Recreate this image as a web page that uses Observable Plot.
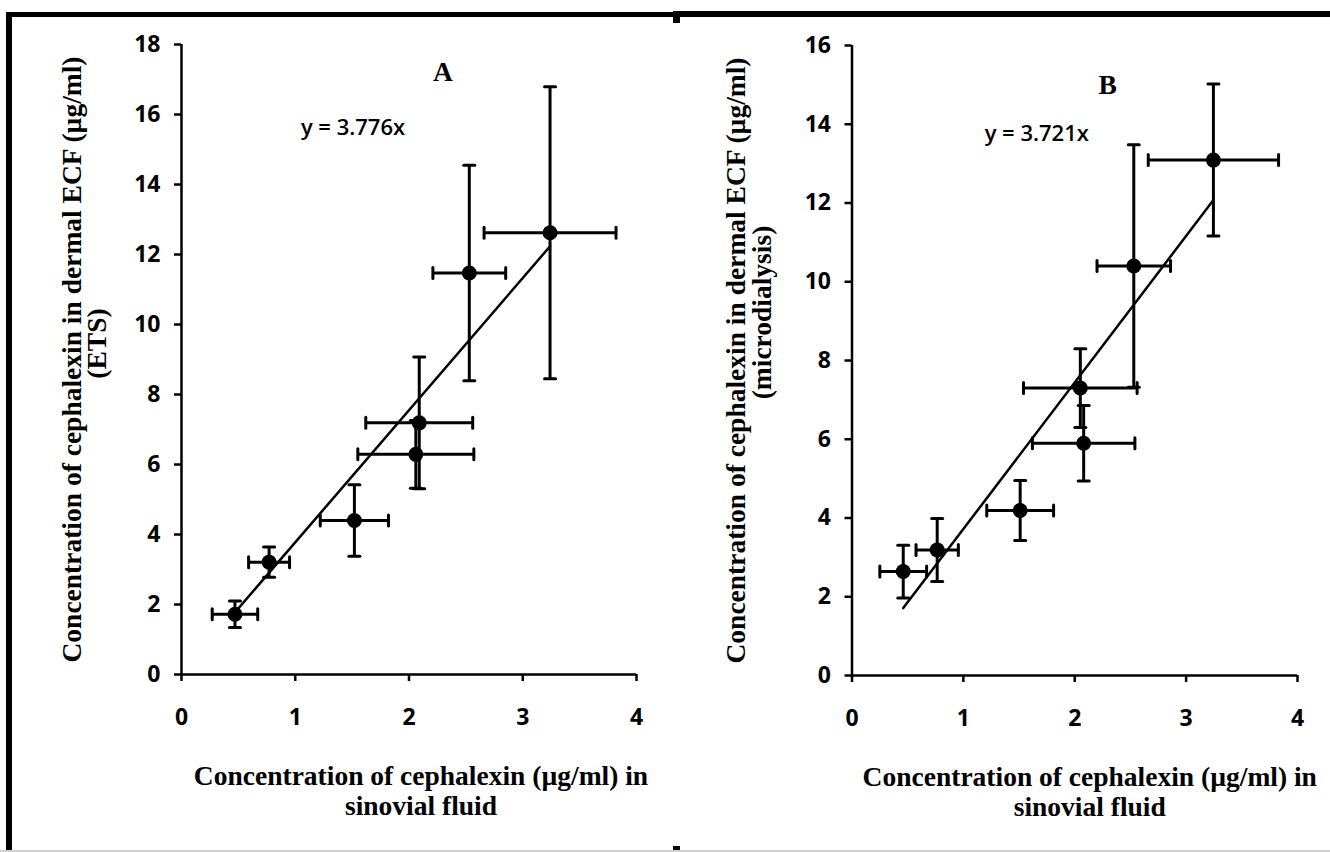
<!DOCTYPE html>
<html><head><meta charset="utf-8">
<script src="https://cdn.jsdelivr.net/npm/d3@7"></script>
<script src="https://cdn.jsdelivr.net/npm/@observablehq/plot@0.6"></script>
<style>
body{margin:0;background:#fff;}
#wrap{position:relative;width:1330px;height:852px;overflow:hidden;background:#fff;}
.panel{position:absolute;top:0;}
.bar{position:absolute;background:#000;}
</style></head><body>
<div id="wrap">
  <div id="pA" class="panel" style="left:0"></div>
  <div id="pB" class="panel" style="left:665px"></div>
  <div class="bar" style="left:6px;top:12px;width:6px;height:840px"></div>
  <div class="bar" style="left:6px;top:12px;width:667px;height:5px"></div>
  <div class="bar" style="left:673px;top:11px;width:7px;height:12px"></div>
  <div class="bar" style="left:678px;top:11px;width:652px;height:6px"></div>
  <div class="bar" style="left:673px;top:846px;width:7px;height:6px"></div>
  <div class="bar" style="left:0;top:850px;width:1330px;height:2px;background:#d0d0d0"></div>
</div>
<script>
// ---- shared axis data ----
const xTicks = [0, 1, 2, 3, 4];
const yTicksA = [0, 2, 4, 6, 8, 10, 12, 14, 16, 18];
const yTicksB = [0, 2, 4, 6, 8, 10, 12, 14, 16];
const xLabel1 = "Concentration of cephalexin (µg/ml) in";
const xLabel2 = "sinovial fluid";

// ---- panel A (ETS) ----
const letterA = "A";
const eqA = "y = 3.776x";
const slopeA = 3.776;
const xA    = [0.47, 0.77, 1.52, 2.09, 2.06, 2.53, 3.24];
const yA    = [1.72, 3.21, 4.40, 7.19, 6.29, 11.47, 12.62];
const xErrA = [0.20, 0.18, 0.30, 0.47, 0.51, 0.32, 0.58];
const yErrA = [0.38, 0.43, 1.02, 1.88, 0.97, 3.08, 4.17];
const yLabA1 = "Concentration of cephalexin in dermal ECF (µg/ml)";
const yLabA2 = "(ETS)";

// ---- panel B (microdialysis) ----
const letterB = "B";
const eqB = "y = 3.721x";
const slopeB = 3.721;
const xB    = [0.46, 0.765, 1.51, 2.08, 2.05, 2.53, 3.245];
const yB    = [2.64, 3.19, 4.19, 5.90, 7.30, 10.40, 13.09];
const xErrB = [0.21, 0.19, 0.30, 0.46, 0.51, 0.33, 0.585];
const yErrB = [0.67, 0.80, 0.76, 0.96, 1.00, 3.08, 1.93];
const yLabB1 = "Concentration of cephalexin in dermal ECF (µg/ml)";
const yLabB2 = "(microdialysis)";

const serif = "'Liberation Serif', 'Times New Roman', serif";
const sans = "'Open Sans', sans-serif";
const capShape = {draw(ctx, l) { ctx.moveTo(0, 0); ctx.lineTo(0, -l); }};

function panel(o) {
  const data = o.xs.map((x, i) => ({x, y: o.ys[i], xe: o.xe[i], ye: o.ye[i]}));
  const fit = d3.extent(o.xs).map(x => ({x, y: o.slope * x}));
  const lab = {fontFamily: serif, fontWeight: "bold", fontSize: 27.5, fill: "black", textAnchor: "middle", lineAnchor: "middle"};
  return Plot.plot({
    width: 665, height: 852,
    marginLeft: o.ml, marginRight: o.mr, marginTop: o.mt, marginBottom: o.mb,
    style: {fontFamily: sans, fontSize: "23px", fontWeight: "bold", color: "black", background: "white", overflow: "visible"},
    x: {domain: [0, 4]},
    y: {domain: [0, o.yMax]},
    marks: [
      Plot.axisX({ticks: xTicks, tickSize: 7, tickPadding: 27, strokeWidth: 2.5, label: null, tickFormat: d => String(d), fontWeight: "bold"}),
      Plot.axisY({ticks: o.yTicks, tickSize: 7, tickPadding: 14, strokeWidth: 2.5, label: null, tickFormat: d => String(d), fontWeight: "bold"}),
      Plot.ruleX([0], {strokeWidth: 2.5}),
      Plot.ruleY([0], {strokeWidth: 2.5}),
      Plot.line(fit, {x: "x", y: "y", stroke: "black", strokeWidth: 2.5}),
      Plot.ruleY(data, {y: "y", x1: d => d.x - d.xe, x2: d => d.x + d.xe, strokeWidth: 3}),
      Plot.ruleX(data, {x: "x", y1: d => d.y - d.ye, y2: d => d.y + d.ye, strokeWidth: 3}),
      Plot.vector(data, {x: d => d.x - d.xe, y: "y", length: 11, rotate: 0, anchor: "middle", shape: capShape, stroke: "black", strokeWidth: 3}),
      Plot.vector(data, {x: d => d.x + d.xe, y: "y", length: 11, rotate: 0, anchor: "middle", shape: capShape, stroke: "black", strokeWidth: 3}),
      Plot.vector(data, {x: "x", y: d => d.y - d.ye, length: 11, rotate: 90, anchor: "middle", shape: capShape, stroke: "black", strokeWidth: 3}),
      Plot.vector(data, {x: "x", y: d => d.y + d.ye, length: 11, rotate: 90, anchor: "middle", shape: capShape, stroke: "black", strokeWidth: 3}),
      Plot.dot(data, {x: "x", y: "y", r: 7.5, fill: "black", stroke: "none"}),
      Plot.text([o.letter], {text: d => d, frameAnchor: "top", dx: o.letterDx, dy: o.letterDy, ...lab}),
      Plot.text([o.eq], {text: d => d, frameAnchor: "top", dx: o.eqDx, dy: o.eqDy, fontFamily: sans, fontWeight: 600, fontSize: 22, fill: "black", textAnchor: "middle", lineAnchor: "middle"}),
      Plot.text([o.yLab1], {text: d => d, frameAnchor: "left", rotate: -90, dx: o.y1dx, dy: 0, ...lab}),
      Plot.text([o.yLab2], {text: d => d, frameAnchor: "left", rotate: -90, dx: o.y2dx, dy: o.y2dy, ...lab}),
      Plot.text([xLabel1], {text: d => d, frameAnchor: "bottom", dx: o.xldx, dy: 102, ...lab}),
      Plot.text([xLabel2], {text: d => d, frameAnchor: "bottom", dx: o.xldx, dy: 132, ...lab})
    ]
  });
}

document.getElementById("pA").append(panel({
  xs: xA, ys: yA, xe: xErrA, ye: yErrA, slope: slopeA, yMax: 18, yTicks: yTicksA,
  ml: 181, mr: 29, mt: 44, mb: 178,
  letter: letterA, letterDx: 34, letterDy: 28, eq: eqA, eqDx: -56, eqDy: 83,
  yLab1: yLabA1, yLab2: yLabA2, y1dx: -109, y2dx: -84, y2dy: -16, xldx: 12
}));
document.getElementById("pB").append(panel({
  xs: xB, ys: yB, xe: xErrB, ye: yErrB, slope: slopeB, yMax: 16, yTicks: yTicksB,
  ml: 186.5, mr: 33, mt: 45, mb: 177,
  letter: letterB, letterDx: 33, letterDy: 40, eq: eqB, eqDx: -38, eqDy: 88,
  yLab1: yLabB1, yLab2: yLabB2, y1dx: -116, y2dx: -90, y2dy: -48, xldx: 15
}));
</script>
</body></html>
